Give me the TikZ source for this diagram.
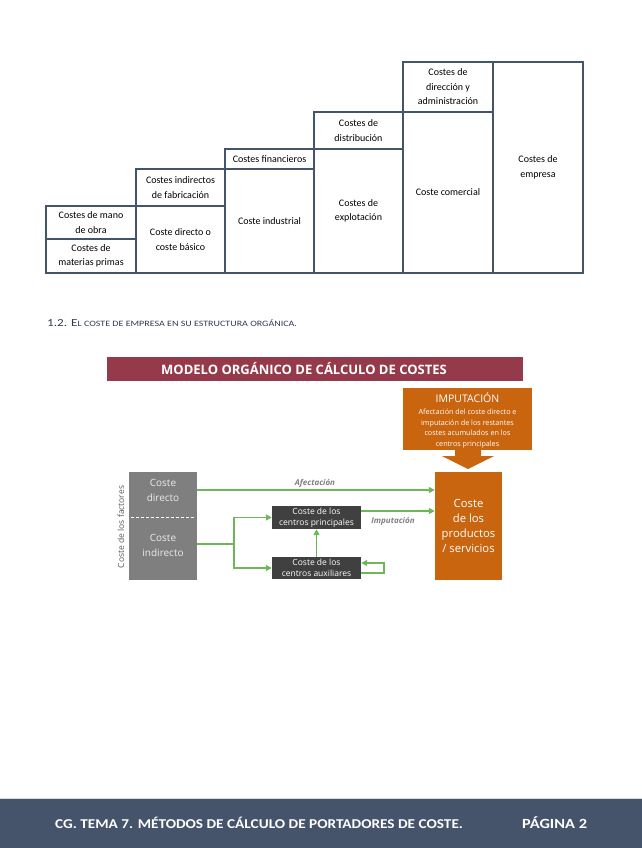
\documentclass[tikz,border=0pt]{standalone}
\usepackage{fontspec}
\setmainfont{Carlito}
\newfontfamily\os{Open Sans}
\usetikzlibrary{arrows.meta,calc}
\definecolor{tbl}{HTML}{44546A}
\definecolor{hdblue}{HTML}{2E3B55}
\definecolor{banner}{HTML}{943A4A}
\definecolor{orng}{HTML}{C9650F}
\definecolor{grn}{HTML}{6DB75A}
\definecolor{gbox}{HTML}{7F7F7F}
\definecolor{dbox}{HTML}{404040}
\definecolor{footer}{HTML}{45546B}
\begin{document}
\begin{tikzpicture}[x=1pt,y=-1pt,
  cell/.style={draw=tbl, line width=1.1pt, inner sep=0pt, align=center,
    font=\fontsize{10}{14.5}\selectfont, text=black},
  dark/.style={fill=dbox, draw=none, inner sep=0pt, align=center, text=white,
    minimum width=89pt, font=\os\fontsize{8.5}{11}\selectfont},
  garrow/.style={draw=grn, line width=1.5pt, -{Triangle[length=6pt,width=6pt]}},
  gline/.style={draw=grn, line width=1.5pt},
  lbl/.style={font=\os\bfseries\itshape\fontsize{8}{10}\selectfont, text=gbox, inner sep=0pt}
]
\useasboundingbox (0,0) rectangle (642,848);
% ---------- table ----------
\node[cell, minimum width=90pt, minimum height=33pt] (c1a) at (91,222.5) {Costes de mano\\de obra};
\node[cell, minimum width=90pt, minimum height=34pt] (c1b) at (91,256) {Costes de\\materias primas};
\node[cell, minimum width=89pt, minimum height=37pt] (c2a) at (180.5,187.5) {Costes indirectos\\de fabricación};
\node[cell, minimum width=89pt, minimum height=67pt] (c2b) at (180.5,239.5) {Coste directo o\\coste básico};
\node[cell, minimum width=89pt, minimum height=20pt] (c3a) at (269.5,159) {Costes financieros};
\node[cell, minimum width=89pt, minimum height=104pt] (c3b) at (269.5,221) {Coste industrial};
\node[cell, minimum width=89pt, minimum height=37pt] (c4a) at (358.5,130.5) {Costes de\\distribución};
\node[cell, minimum width=89pt, minimum height=124pt] (c4b) at (358.5,211) {Costes de\\explotación};
\node[cell, minimum width=90pt, minimum height=50pt] (c5a) at (448,87) {Costes de\\dirección y\\administración};
\node[cell, minimum width=90pt, minimum height=161pt] (c5b) at (448,192.5) {Coste comercial};
\node[cell, minimum width=90pt, minimum height=211pt] (c6) at (538,167.5) {Costes de\\empresa};
% ---------- heading ----------
\node[anchor=west, inner sep=0pt, text=hdblue] (head) at (47,323)
  {\scalebox{1.22}[1]{{\fontsize{10.8}{12}\selectfont 1.2. E}{\fontsize{8.2}{10}\selectfont L COSTE DE EMPRESA EN SU ESTRUCTURA ORGÁNICA.}}};
% ---------- banner ----------
\node[fill=banner, minimum width=416pt, minimum height=24pt, inner sep=0pt] (ban) at (315,369) {};
\node[text=white, inner sep=0pt, font=\os\bfseries\fontsize{13}{16}\selectfont] (bant) at (304,369)
  {MODELO ORGÁNICO DE CÁLCULO DE COSTES};
% ---------- imputacion ----------
\node[fill=orng, minimum width=129pt, minimum height=62pt, inner sep=0pt] (imp) at (467.5,419) {};
\node[text=white, inner sep=0pt, font=\os\fontsize{10.5}{12}\selectfont] (impt) at (467.5,398) {IMPUTACIÓN};
\node[text=white, inner sep=0pt, align=center, font=\os\fontsize{7.2}{10.5}\selectfont] (impb) at (467.5,428.5)
  {Afectación del coste directo e\\imputación de los restantes\\costes acumulados en los\\centros principales};
\fill[orng] (455,449) -- (481,449) -- (481,456) -- (494,456) -- (468,469) -- (442,456) -- (455,456) -- cycle;
% ---------- left gray box ----------
\node[fill=gbox, minimum width=68pt, minimum height=108pt, inner sep=0pt] (gb) at (163,526) {};
\draw[white, line width=1pt, dash pattern=on 3pt off 2pt] ($(gb.west |- 0,517)+(2,0)$) -- ($(gb.east |- 0,517)+(-2,0)$);
\node[text=white!92!black, align=center, inner sep=0pt, font=\os\fontsize{10}{15}\selectfont] (dtxt) at (163,490) {Coste\\directo};
\node[text=white!92!black, align=center, inner sep=0pt, font=\os\fontsize{10}{15}\selectfont] (itxt) at (163,545) {Coste\\indirecto};
\node[rotate=90, text=black!65, inner sep=0pt, font=\os\fontsize{8.5}{10}\selectfont] (fact) at (121,527) {Coste de los factores};
% ---------- centres ----------
\node[dark, minimum height=23pt] (cp) at (316.5,517.5) {Coste de los\\centros principales};
\node[dark, minimum height=22pt] (ca) at (316.5,568) {Coste de los\\centros auxiliares};
% ---------- output ----------
\node[fill=orng, minimum width=67pt, minimum height=108pt, inner sep=0pt, text=white,
  align=center, font=\os\fontsize{11.3}{15.3}\selectfont] (out) at (468.5,526)
  {Coste\\de los\\productos\\/ servicios};
% ---------- connectors ----------
\coordinate (br) at (234,544);
\coordinate (lp) at (384,573);
\draw[garrow] (gb.east |- dtxt) -- (out.west |- dtxt);
\draw[garrow] (cp.east |- 0,511) -- (out.west |- 0,511);
\draw[gline] (gb.east |- br) -- (br);
\draw[garrow] (br) |- (cp.west);
\draw[garrow] (br) |- (ca.west);
\draw[garrow] (ca.north) -- (cp.south);
\draw[garrow] (ca.east |- lp) -- (lp) |- (ca.east |- 0,563);
\node[lbl] (af) at (315,483) {Afectación};
\node[lbl] (im) at (393,521) {Imputación};
% ---------- footer ----------
\fill[footer] (0,799) rectangle (642,848);
\draw[black!15, line width=0.8pt] (0,798.5) -- (642,798.5);
\node[anchor=west, inner sep=0pt, text=white, font=\bfseries\fontsize{13.5}{16}\selectfont] (ft) at (55,823)
  {\scalebox{1.13}[1]{CG. TEMA 7. MÉTODOS DE CÁLCULO DE PORTADORES DE COSTE.}};
\node[anchor=west, inner sep=0pt, text=white, font=\bfseries\fontsize{14}{16}\selectfont] (pg) at (522,823)
  {\scalebox{1.17}[1]{PÁGINA 2}};
\end{tikzpicture}
\end{document}
